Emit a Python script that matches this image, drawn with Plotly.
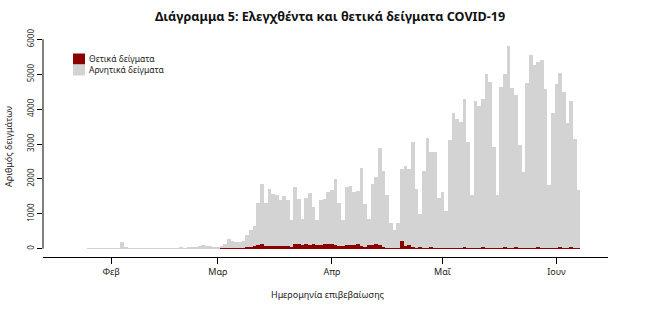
import pandas as pd
import plotly.graph_objects as go

# Daily samples, 26 Jan 2020 – 7 Jun 2020 (one row per week, Sunday first)
dates = pd.date_range("2020-01-26", "2020-06-07", freq="D")

tested = [
    10, 5, 10, 15, 10, 15, 10,
    15, 10, 190, 20, 10, 15, 10,
    15, 5, 10, 15, 10, 5, 10,
    15, 10, 10, 15, 20, 15, 20,
    25, 35, 80, 90, 85, 70, 50,
    55, 70, 120, 265, 230, 200, 190,
    225, 400, 530, 660, 1310, 1840, 1310,
    1720, 1560, 1540, 1400, 1500, 1400, 830,
    1770, 1430, 840, 1460, 1590, 1180, 820,
    1390, 1410, 1630, 1680, 2010, 1300, 815,
    1770, 1790, 1630, 1640, 2300, 1270, 860,
    1840, 2040, 2890, 2230, 1530, 735, 525,
    735, 2270, 2360, 2270, 3060, 1700, 985,
    2220, 3160, 2770, 2760, 1455, 1625, 1090,
    3110, 3890, 3730, 3635, 4300, 3060, 1530,
    4230, 4085, 4300, 4995, 4785, 2900, 1530,
    4640, 4995, 5810, 4595, 4400, 2965, 2200,
    4755, 5550, 5265, 5360, 5400, 4565, 1815,
    3875, 4715, 5025, 4495, 3590, 4230, 3130,
    1695,
]

positive = [
    0, 0, 0, 0, 0, 0, 0,
    0, 0, 0, 0, 0, 0, 0,
    0, 0, 0, 0, 0, 0, 0,
    0, 0, 0, 0, 0, 0, 0,
    0, 0, 0, 1, 1, 0, 0,
    0, 5, 12, 25, 6, 10, 8,
    30, 45, 60, 70, 100, 130, 80,
    70, 70, 80, 75, 80, 70, 60,
    130, 140, 100, 120, 110, 120, 90,
    100, 120, 130, 125, 110, 80, 65,
    110, 100, 90, 120, 80, 60, 100,
    95, 130, 110, 40, 30, 20, 30,
    10, 210, 80, 90, 60, 20, 40,
    30, 20, 35, 25, 15, 20, 10,
    30, 25, 20, 15, 40, 10, 10,
    25, 30, 45, 20, 15, 10, 10,
    25, 60, 20, 15, 40, 10, 10,
    30, 25, 20, 35, 20, 10, 5,
    15, 20, 40, 30, 15, 35, 10,
    30,
]

negative = [t - p for t, p in zip(tested, positive)]

month_ticks = ["2020-02-01", "2020-03-01", "2020-04-01", "2020-05-01", "2020-06-01"]
month_labels = ["Φεβ", "Μαρ", "Απρ", "Μαΐ", "Ιουν"]
y_ticks = [0, 1000, 2000, 3000, 4000, 5000, 6000]

series_names = ["Θετικά δείγματα", "Αρνητικά δείγματα"]
POS_COLOR = "#8B0000"
NEG_COLOR = "#D3D3D3"
FONT = "Noto Sans"
TEXT = "#222222"

fig = go.Figure()
fig.add_trace(go.Bar(x=dates, y=positive, name=series_names[0],
                     marker=dict(color=POS_COLOR, line=dict(width=0))))
fig.add_trace(go.Bar(x=dates, y=negative, name=series_names[1],
                     marker=dict(color=NEG_COLOR, line=dict(width=0))))

W, H = 660, 335
L, R, T, B = 43, 52, 31, 78

fig.update_layout(
    width=W, height=H,
    margin=dict(l=L, r=R, t=T, b=B, pad=0),
    barmode="stack", bargap=0,
    plot_bgcolor="white", paper_bgcolor="white",
    showlegend=False,
    font=dict(family=FONT, size=8, color=TEXT),
    title=dict(text="<b>Διάγραμμα 5: Ελεγχθέντα και θετικά δείγματα COVID-19</b>",
               x=0.5, xanchor="center", y=1 - 17 / H, yanchor="middle",
               font=dict(family=FONT, size=12.6, color="#111111")),
)

fig.update_xaxes(
    type="date",
    range=["2020-01-13 12:00", "2020-06-15"],
    tickvals=month_ticks, ticktext=month_labels,
    ticks="outside", ticklen=6, tickcolor="black", tickwidth=1,
    showline=True, linecolor="black", linewidth=1,
    showgrid=False, zeroline=False,
    tickfont=dict(family=FONT, size=9, color=TEXT),
)
fig.update_yaxes(
    range=[-240, 6240],
    tickvals=y_ticks, ticktext=[str(v) for v in y_ticks],
    ticks="outside", ticklen=5, tickcolor="black", tickwidth=1,
    tickangle=-90,
    showline=False, showgrid=False, zeroline=False,
    tickfont=dict(family=FONT, size=8, color=TEXT),
)

# R-style y axis line spanning only the tick range
fig.add_shape(type="line", xref="paper", yref="y", x0=0, x1=0, y0=0, y1=6000,
              line=dict(color="black", width=1))

pw = W - L - R
ph = H - T - B

def px_x(px):
    return (px - L) / pw

def px_y(py):
    return 1 - (py - T) / ph

# Legend swatches and labels
legend_rows = [(59, POS_COLOR), (70, NEG_COLOR)]
for (cy, col), name in zip(legend_rows, series_names):
    fig.add_shape(type="rect", xref="paper", yref="paper",
                  x0=px_x(73), x1=px_x(85), y0=px_y(cy + 5.5), y1=px_y(cy - 5.5),
                  line=dict(width=0), fillcolor=col)
    fig.add_annotation(xref="paper", yref="paper", x=px_x(87), y=px_y(cy),
                       text=name, showarrow=False, xanchor="left", yanchor="middle",
                       font=dict(family=FONT, size=8.5, color=TEXT))

# Axis titles
fig.add_annotation(xref="paper", yref="paper", x=px_x(328), y=px_y(294),
                   text="Ημερομηνία επιβεβαίωσης", showarrow=False,
                   xanchor="center", yanchor="middle",
                   font=dict(family=FONT, size=9, color=TEXT))
fig.add_annotation(xref="paper", yref="paper", x=px_x(8), y=px_y(147),
                   text="Αριθμός δειγμάτων", showarrow=False, textangle=-90,
                   xanchor="center", yanchor="middle",
                   font=dict(family=FONT, size=9, color=TEXT))

fig.write_html("out.html")
